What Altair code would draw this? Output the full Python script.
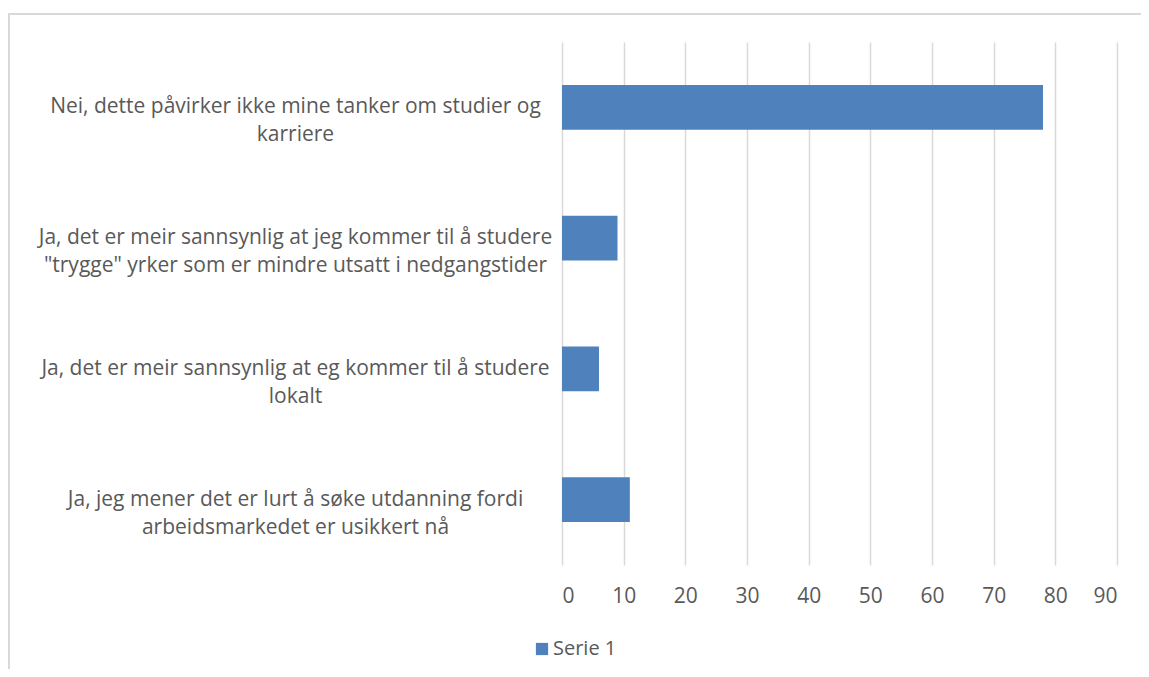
import altair as alt
import pandas as pd

categories = [
    "Nei, dette påvirker ikke mine tanker om studier og|karriere",
    "Ja, det er meir sannsynlig at jeg kommer til å studere|\"trygge\" yrker som er mindre utsatt i nedgangstider",
    "Ja, det er meir sannsynlig at eg kommer til å studere|lokalt",
    "Ja, jeg mener det er lurt å søke utdanning fordi|arbeidsmarkedet er usikkert nå",
]
values = [78, 9, 6, 11]
series_name = "Serie 1"
x_ticks = [0, 10, 20, 30, 40, 50, 60, 70, 80, 90]

df = pd.DataFrame({"kategori": categories, "verdi": values, "serie": [series_name] * len(values)})

FONT = "Open Sans"
TEXT = "#595959"
GRID = "#d9d9d9"
BLUE = "#4f81bd"

bars = alt.Chart(df).mark_bar(color=BLUE).encode(
    x=alt.X(
        "verdi:Q",
        scale=alt.Scale(domain=[0, 90], nice=False),
        axis=alt.Axis(
            values=x_ticks, title=None, domain=False, ticks=False,
            grid=True, gridColor=GRID, gridWidth=1.5,
            labelPadding=20, labelFontSize=21, labelColor=TEXT, labelFont=FONT,
        ),
    ),
    y=alt.Y(
        "kategori:N",
        sort=categories,
        scale=alt.Scale(paddingInner=0.656, paddingOuter=0.328),
        axis=alt.Axis(
            title=None, domain=False, ticks=False, grid=False,
            labelExpr="split(datum.label, '|')",
            labelAlign="center", labelBaseline="middle",
            labelPadding=267, labelLimit=700, labelLineHeight=28,
            labelFontSize=21, labelColor=TEXT, labelFont=FONT,
        ),
    ),
    color=alt.Color(
        "serie:N",
        scale=alt.Scale(domain=[series_name], range=[BLUE]),
        legend=alt.Legend(
            title=None, orient="none", legendX=-30, legendY=597,
            symbolType="square", symbolSize=150, symbolStrokeWidth=0,
            labelFontSize=20, labelColor=TEXT, labelFont=FONT, labelOffset=1,
        ),
    ),
)

frame = alt.Chart(df).mark_rect(fill=None, stroke=GRID, strokeWidth=1.5).encode(
    x=alt.value(-553), x2=alt.value(700), y=alt.value(-28), y2=alt.value(700)
)

chart = alt.layer(frame, bars).properties(
    width=555, height=523,
    background="white",
    autosize=alt.AutoSizeParams(type="none"),
    padding={"left": 554, "top": 34, "right": 24, "bottom": 104},
).configure_view(stroke=None)

chart.save("out.html", embed_options={"renderer": "svg", "actions": False})
